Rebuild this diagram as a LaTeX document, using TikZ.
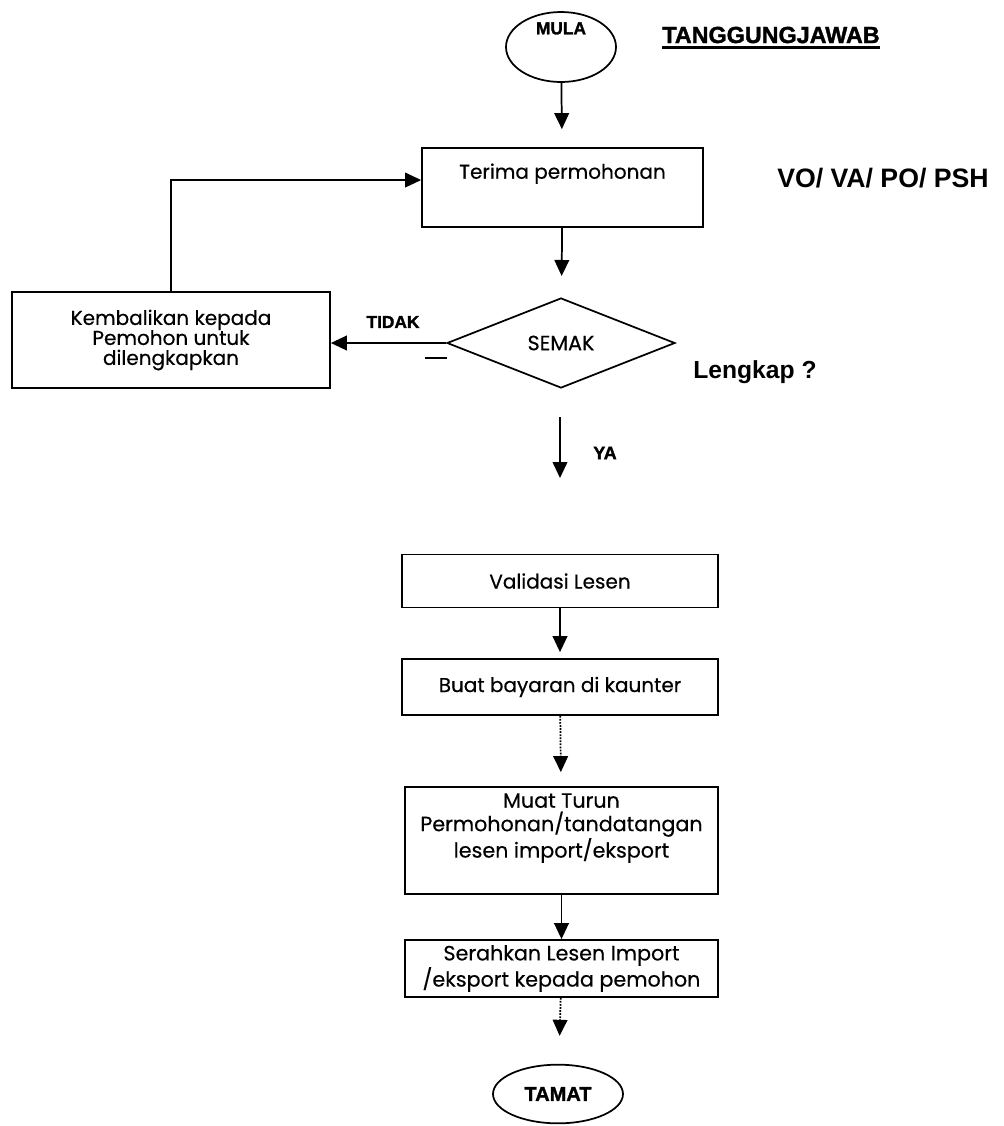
\documentclass[tikz,border=0pt]{standalone}
\usepackage{fontspec}
\setmainfont{Poppins}[FakeBold=0.4]
\newfontfamily\arialfont{Liberation Sans}
\newfontfamily\hitamfont{Liberation Sans}[BoldFeatures={FakeBold=1.5}]
\usetikzlibrary{shapes.geometric,arrows.meta}

\begin{document}
\begin{tikzpicture}[x=7.5pt,y=7.5pt,
  kotak/.style={draw=black,line width=1.3pt,rectangle,inner sep=0pt,align=center,
    font=\fontsize{15}{17.6}\selectfont},
  bujur/.style={draw=black,line width=1.3pt,ellipse,inner sep=0pt,align=center,
    font=\hitamfont\bfseries\fontsize{13}{14}\selectfont},
  tebal/.style={inner sep=0pt,font=\hitamfont\bfseries\fontsize{13}{15}\selectfont},
  anakpanah/.style={line width=1.3pt,-{Triangle[length=12pt,width=11pt]}},
  putus/.style={densely dotted},
]
\useasboundingbox (0,0) rectangle (100.4,-112.6);
\node [bujur,minimum width=82.5pt,minimum height=52.5pt] (mula) at (56.1,-4.7) {MULA\\[14pt]\mbox{}};
\node [tebal,font=\hitamfont\bfseries\fontsize{17.5}{19}\selectfont] (tanggung) at (77.1,-3.5) {TANGGUNGJAWAB};
\node [kotak,minimum width=210.75pt,minimum height=59.25pt] (terima) at (56.25,-18.75) {Terima permohonan\\[7pt]\mbox{}};
\node [inner sep=0pt,anchor=west,font=\arialfont\bfseries\fontsize{20}{22}\selectfont] (vo) at (77.7,-17.8) {VO/ VA/ PO/ PSH};
\node [draw=black,line width=1.3pt,diamond,inner sep=0pt,minimum width=171pt,minimum height=67.5pt,
  font=\fontsize{15.5}{17}\selectfont] (semak) at (56.1,-34.3) {SEMAK};
\node [inner sep=0pt,anchor=west,font=\arialfont\bfseries\fontsize{18.5}{20}\selectfont] (lengkap) at (69.3,-37.2) {Lengkap ?};
\node [kotak,minimum width=238.5pt,minimum height=72pt,font=\fontsize{15}{15}\selectfont] (kembali) at (17.1,-34.0)
  {Kembalikan kepada\\Pemohon untuk\\dilengkapkan};
\node [tebal] (tidak) at (39.3,-32.2) {TIDAK};
\coordinate (sengkang1) at (42.5,-35.8);
\coordinate (sengkang2) at (44.7,-35.8);
\coordinate (ya1) at (56.0,-41.7);
\coordinate (ya2) at (56.0,-47.8);
\node [tebal,font=\hitamfont\bfseries\fontsize{13.5}{15}\selectfont] (ya) at (60.5,-45.3) {YA};
\node [kotak,minimum width=237pt,minimum height=39.75pt] (validasi) at (56.0,-58.1) {Validasi Lesen};
\node [kotak,minimum width=237pt,minimum height=42pt] (bayar) at (56.0,-68.7) {Buat bayaran di kaunter};
\node [kotak,minimum width=234.75pt,minimum height=80.25pt,font=\fontsize{15.5}{17.6}\selectfont] (muat) at (56.15,-84.05)
  {Muat Turun\\Permohonan/tandatangan\\lesen import/eksport\\[5pt]\mbox{}};
\node [kotak,minimum width=234.75pt,minimum height=42.75pt,font=\fontsize{15.5}{17.3}\selectfont] (serah) at (56.15,-96.85)
  {Serahkan Lesen Import\\/eksport kepada pemohon};
\node [bujur,minimum width=97.5pt,minimum height=44pt,font=\hitamfont\bfseries\fontsize{15}{16}\selectfont] (tamat) at (55.8,-109.4) {TAMAT};
\draw [line width=2.2pt] ([yshift=-3pt]tanggung.south west) -- ([yshift=-3pt]tanggung.south east);
\draw [anakpanah,shorten >=13.5pt] (mula) -- (terima);
\draw [anakpanah,shorten >=16pt] (terima) -- (semak);
\draw [anakpanah] (semak.west) -- (kembali.east |- semak.west);
\draw [line width=2.2pt] (sengkang1) -- (sengkang2);
\draw [anakpanah] (kembali.north) |- ([yshift=5.6pt]terima.west);
\draw [anakpanah] (ya1) -- (ya2);
\draw [anakpanah,shorten >=4.5pt] (validasi) -- (bayar);
\draw [anakpanah,putus,shorten >=10.5pt] (bayar) -- (muat);
\draw [anakpanah] (muat) -- (serah);
\draw [anakpanah,putus,shorten >=21pt] (serah) -- (tamat);
\end{tikzpicture}
\end{document}
